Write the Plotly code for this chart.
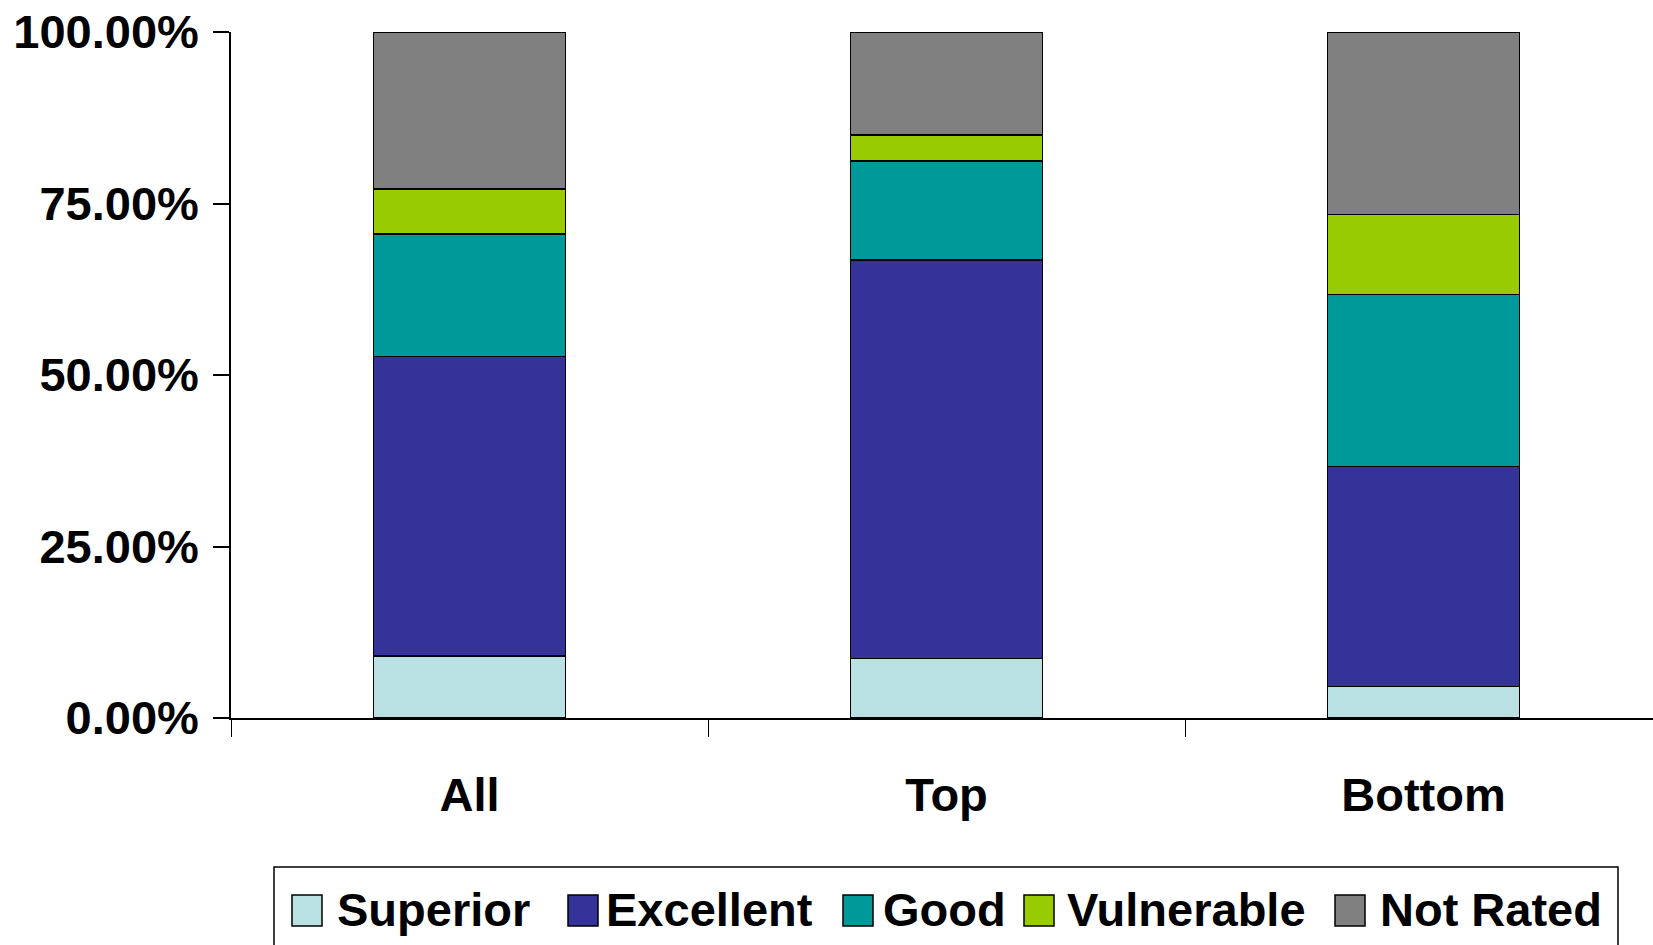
import plotly.graph_objects as go

# Rating mix per group (shares of 1.0)
categories = ["All", "Top", "Bottom"]
ratings = ["Superior", "Excellent", "Good", "Vulnerable", "Not Rated"]
superior = [0.0904, 0.0870, 0.0458]
excellent = [0.4364, 0.5806, 0.3207]
good = [0.1787, 0.1444, 0.2507]
vulnerable = [0.0655, 0.0380, 0.1166]
not_rated = [0.2290, 0.1500, 0.2662]
y_ticks = [0, 0.25, 0.5, 0.75, 1.0]

colors = ["#B9E0E3", "#333399", "#009999", "#99CC00", "#808080"]
series = [superior, excellent, good, vulnerable, not_rated]

FONT = "Arial, Liberation Sans, sans-serif"
W, H = 1653, 945
ML, MT, MB, MR = 231, 32, 227, 0
PW, PH = W - ML - MR, H - MT - MB

fig = go.Figure()
for name, vals, col in zip(ratings, series, colors):
    fig.add_trace(go.Bar(
        x=categories, y=vals, name=name,
        marker=dict(color=col, line=dict(color="black", width=1.5)),
        showlegend=False,
    ))

# category width in px is 477, so the visible range stops short of the last boundary
cat_px = 477.0
x_hi = -0.5 + PW / cat_px


def px(xp):
    return (xp - ML) / PW


def py(yp):
    return (H - MB - yp) / PH


# Legend drawn as a framed row of swatches and labels
shapes = [dict(type="rect", xref="paper", yref="paper",
               x0=px(274), x1=px(1618), y0=py(990), y1=py(867),
               line=dict(color="black", width=1.5), fillcolor="rgba(0,0,0,0)")]
annotations = []
swatch_x = [292, 568, 843, 1024, 1335]
text_x = [335, 604, 881, 1065, 1378]
for name, col, sx, tx in zip(ratings, colors, swatch_x, text_x):
    shapes.append(dict(type="rect", xref="paper", yref="paper",
                       x0=px(sx), x1=px(sx + 30), y0=py(926), y1=py(895),
                       line=dict(color="black", width=1.5), fillcolor=col))
    annotations.append(dict(xref="paper", yref="paper", x=px(tx), y=py(909),
                            xanchor="left", yanchor="middle", showarrow=False,
                            text="<b>%s</b>" % name,
                            font=dict(family=FONT, size=47, color="black")))

fig.update_layout(
    width=W, height=H,
    margin=dict(l=ML, r=MR, t=MT, b=MB, pad=0),
    barmode="stack", bargap=0.5975,
    plot_bgcolor="white", paper_bgcolor="white",
    font=dict(family=FONT, size=47, color="black"),
    shapes=shapes, annotations=annotations,
    showlegend=False,
)
fig.update_xaxes(
    range=[-0.5, x_hi], showline=True, linecolor="black", linewidth=2,
    ticks="outside", tickson="boundaries", ticklen=17, tickwidth=1.2, tickcolor="black",
    ticklabelstandoff=35,
    showgrid=False, zeroline=False,
    tickfont=dict(family=FONT, size=47, color="black", weight="bold"),
)
fig.update_yaxes(
    range=[0, 1], tickvals=y_ticks, tickformat=".2%",
    showline=True, linecolor="black", linewidth=1.5,
    ticks="outside", ticklen=16, tickwidth=1.5, tickcolor="black",
    ticklabelstandoff=5,
    showgrid=False, zeroline=False,
    tickfont=dict(family=FONT, size=47, color="black", weight="bold"),
)

fig.write_html("out.html")
